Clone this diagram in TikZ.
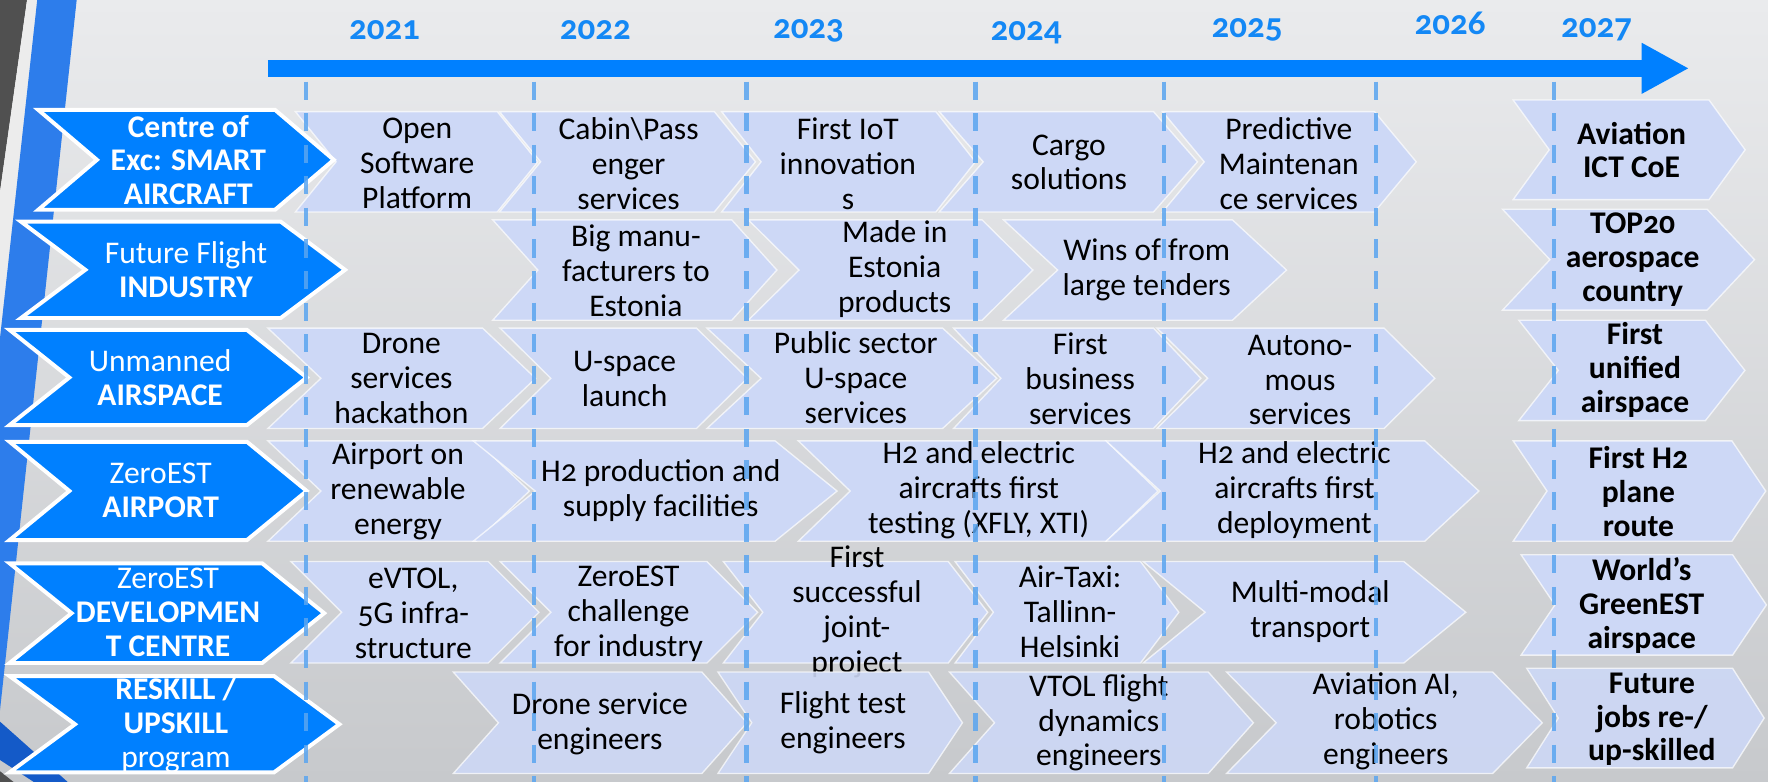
\documentclass[tikz,border=0pt]{standalone}
\usepackage{fontspec}
\setmainfont{Carlito}[Numbers=OldStyle]
\usepackage{tikz}
\usetikzlibrary{arrows.meta}
\definecolor{bgtop}{RGB}{234,235,237}
\definecolor{bgbot}{RGB}{199,201,204}
\definecolor{rowblue}{RGB}{0,128,255}
\definecolor{yearblue}{RGB}{20,136,245}
\definecolor{planfill}{RGB}{205,216,246}
\definecolor{lineblue}{RGB}{90,165,240}
\definecolor{stripeblue}{RGB}{45,125,235}
\definecolor{stripegrey}{RGB}{80,80,80}
\definecolor{cornerblue}{RGB}{20,90,200}
\tikzset{
    rowchev/.style={fill=rowblue,draw=white,line width=3.5pt,line join=miter},
    planchev/.style={fill=planfill,draw=white,draw opacity=0.7,line width=1.2pt},
    goalchev/.style={planchev},
    rowtext/.style={align=center,inner sep=0pt,text=white,
        font=\fontsize{28}{30}\selectfont},
    plantext/.style={align=center,inner sep=0pt,text=black,
        font=\fontsize{28}{31}\selectfont},
    goaltext/.style={plantext,font=\bfseries\fontsize{28}{30}\selectfont},
    yeartext/.style={anchor=base,text=yearblue,
        font=\bfseries\fontsize{31}{31}\selectfont},
    yearline/.style={draw=lineblue,draw opacity=0.85,line width=4pt,
        dash pattern=on 16pt off 12pt}
}
% chevron: style, left x, top-right x, point depth, top y, bottom y
\newcommand{\planchevron}[6]{%
  \filldraw[#1] (#2,#5) -- (#3,#5) -- ({#3+#4},{(#5+#6)/2}) -- (#3,#6)
     -- (#2,#6) -- ({#2+#4},{(#5+#6)/2}) -- cycle;}
\begin{document}
\begin{tikzpicture}[x=1pt,y=-1pt]
  \useasboundingbox (0,0) rectangle (1568,693.5);
  % Draw background
  \shade[top color=bgtop,bottom color=bgbot] (0,0) rectangle (1568,693.5);
  \fill[stripegrey] (0,0) -- (24,0) -- (0,170) -- cycle;
  \fill[white!85!gray] (24,0) -- (33,0) -- (0,300) -- (0,170) -- cycle;
  \fill[stripeblue] (33,0) -- (68,0) -- (0,630) -- (0,300) -- cycle;
  \fill[cornerblue] (0,640) -- (60,693.5) -- (30,693.5) -- (0,674) -- cycle;
  \fill[stripegrey] (0,684) -- (12,693.5) -- (0,693.5) -- cycle;
  % Draw timeline
  \draw[rowblue,line width=15pt,-{Triangle[length=42pt,width=42pt]}]
        (237.6,60.6) -- (1498,60.6);
  \node[yeartext] (y2021) at (341,35)  {2021};
  \node[yeartext] (y2022) at (528,35)  {2022};
  \node[yeartext] (y2023) at (717,34)  {2023};
  \node[yeartext] (y2024) at (910,36)  {2024};
  \node[yeartext] (y2025) at (1106,33) {2025};
  \node[yeartext] (y2026) at (1286,31) {2026};
  \node[yeartext] (y2027) at (1416,33) {2027};
  % Row 1: smart aircraft
  \planchevron{planchev}{262}{441}{36}{99}{188}
  \node[plantext] (software) at (370,145) {Open\\Software\\Platform};
  \planchevron{planchev}{443}{633.5}{36.5}{99}{188}
  \node[plantext] (cabin) at (557.5,145) {Cabin\textbackslash Pass\\enger\\services};
  \planchevron{planchev}{640}{830}{35}{99}{188}
  \node[plantext] (iot) at (752,145) {First IoT\\innovation\\s};
  \planchevron{planchev}{833}{1023}{39}{99}{188}
  \node[plantext] (cargo) at (948,144) {Cargo\\solutions};
  \planchevron{planchev}{1031}{1219}{37}{99}{188}
  \node[plantext] (maintenance) at (1143,145) {Predictive\\Maintenan\\ce services};
  \planchevron{goalchev}{1342}{1515.7}{32}{88.7}{177}
  \node[goaltext] (coe) at (1447,133) {Aviation\\ICT CoE};
  % Row 2: industry
  \planchevron{planchev}{437}{649}{40}{195}{284}
  \node[plantext] (manufacturers) at (564,240) {Big manu-\\facturers to\\Estonia};
  \planchevron{planchev}{663.6}{871}{45}{195}{284}
  \node[plantext] (madein) at (793.5,239) {Made in\\Estonia\\products};
  \planchevron{planchev}{890}{1093}{48}{195}{284}
  \node[plantext] (tenders) at (1017,239) {Wins of from\\large tenders};
  \planchevron{goalchev}{1332.6}{1514}{42}{185.6}{275}
  \node[goaltext] (top20) at (1448,230) {TOP20\\aerospace\\country};
  % Row 3: airspace
  \planchevron{planchev}{237.6}{428}{47}{291}{380}
  \node[plantext] (hackathon) at (356,336) {Drone\\services\\hackathon};
  \planchevron{planchev}{443.5}{617.7}{45}{291}{380}
  \node[plantext] (uspace) at (554,336) {U-space\\launch};
  \planchevron{planchev}{627}{836}{48}{291}{380}
  \node[plantext] (public) at (759,335) {Public sector\\U-space\\services};
  \planchevron{planchev}{845.7}{1023}{42}{291}{380}
  \node[plantext] (business) at (958,336) {First\\business\\services};
  \planchevron{planchev}{1026}{1227.5}{45}{291}{380}
  \node[plantext] (autonomous) at (1153,337) {Autono-\\mous\\services};
  \planchevron{goalchev}{1347}{1512.5}{35}{284}{373}
  \node[goaltext] (unified) at (1450,328) {First\\unified\\airspace};
  % Row 4: airport
  \planchevron{planchev}{237.6}{422.5}{47}{391}{480}
  \node[plantext] (renewable) at (353,436) {Airport on\\renewable\\energy};
  \planchevron{planchev}{419.7}{687.4}{55}{391}{480}
  \node[plantext] (h2prod) at (586,435) {H2 production and\\supply facilities};
  \planchevron{planchev}{708}{981}{46}{391}{480}
  \node[plantext] (h2test) at (868,435) {H2 and electric\\aircrafts first\\testing (XFLY, XTI)};
  \planchevron{planchev}{981}{1263.6}{48}{391}{480}
  \node[plantext] (h2deploy) at (1148,435) {H2 and electric\\aircrafts first\\deployment};
  \planchevron{goalchev}{1342}{1536}{30}{391}{480}
  \node[goaltext] (h2route) at (1453,436) {First H2\\plane\\route};
  % Row 5: development centre
  \planchevron{planchev}{258}{433}{45}{498}{588}
  \node[plantext] (evtol) at (366.6,544) {eVTOL,\\5G infra-\\structure};
  \planchevron{planchev}{443.5}{627}{45}{498}{588}
  \node[plantext] (challenge) at (557.5,544) {ZeroEST\\challenge\\for industry};
  \planchevron{planchev}{641.5}{841}{35}{498}{588}
  \node[plantext] (joint) at (760,543) {First\\successful\\joint-\\project};
  \planchevron{planchev}{847}{1011.5}{34}{498}{588}
  \node[plantext] (airtaxi) at (949,542.5) {Air-Taxi:\\Tallinn-\\Helsinki};
  \planchevron{planchev}{1013.8}{1245}{55}{498}{588}
  \node[plantext] (multimodal) at (1162,542) {Multi-modal\\transport};
  \planchevron{goalchev}{1349}{1536.6}{30}{492}{581}
  \node[goaltext] (greenest) at (1456,537) {World’s\\GreenEST\\airspace};
  % Row 6: reskill
  \begin{scope}[fill opacity=0.9]
  \planchevron{planchev}{402}{622.5}{40}{596}{686}
  \planchevron{planchev}{636.7}{823.6}{30}{596}{686}
  \planchevron{planchev}{842}{1071.6}{40}{596}{686}
  \planchevron{planchev}{1087.8}{1323.8}{44}{596}{686}
  \planchevron{goalchev}{1354}{1536.6}{28}{592.7}{681}
  \end{scope}
  \node[plantext] (droneeng) at (532,642) {Drone service\\engineers};
  \node[plantext] (flighteng) at (747.6,641) {Flight test\\engineers};
  \node[plantext] (vtoleng) at (974.5,641) {VTOL flight\\dynamics\\engineers};
  \node[plantext] (aieng) at (1229,640) {Aviation AI,\\robotics\\engineers};
  \node[goaltext] (futurejobs) at (1465,638) {Future\\jobs re-/\\up-skilled};
  % Draw row labels
  \planchevron{rowchev}{34}{244}{52}{97.5}{186}
  \node[rowtext,font=\bfseries\fontsize{28}{30}\selectfont] (smart) at (167,142)
        {Centre of\\Exc: SMART\\AIRCRAFT};
  \planchevron{rowchev}{18.7}{249}{57}{196.6}{282}
  \node[rowtext] (industry) at (165,239) {Future Flight\\\textbf{INDUSTRY}};
  \planchevron{rowchev}{8.5}{219}{53}{292.6}{377}
  \node[rowtext] (airspace) at (142,335) {Unmanned\\\textbf{AIRSPACE}};
  \planchevron{rowchev}{8.5}{219}{53}{391.8}{479}
  \node[rowtext] (airport) at (142.5,435) {ZeroEST\\\textbf{AIRPORT}};
  \planchevron{rowchev}{8.5}{232.5}{55}{499.6}{588}
  \node[rowtext] (devcentre) at (149,543) {ZeroEST\\\textbf{DEVELOPMEN}\\\textbf{T CENTRE}};
  \planchevron{rowchev}{8.5}{243}{58}{599.6}{685}
  \node[rowtext] (reskill) at (156,643) {\textbf{RESKILL /}\\\textbf{UPSKILL}\\program};
  % Draw year lines
  \foreach \x in {271.5,473.5,662,865,1032.5,1220.5,1378}
    \draw[yearline] (\x,72.4) -- (\x,693.5);
\end{tikzpicture}
\end{document}
